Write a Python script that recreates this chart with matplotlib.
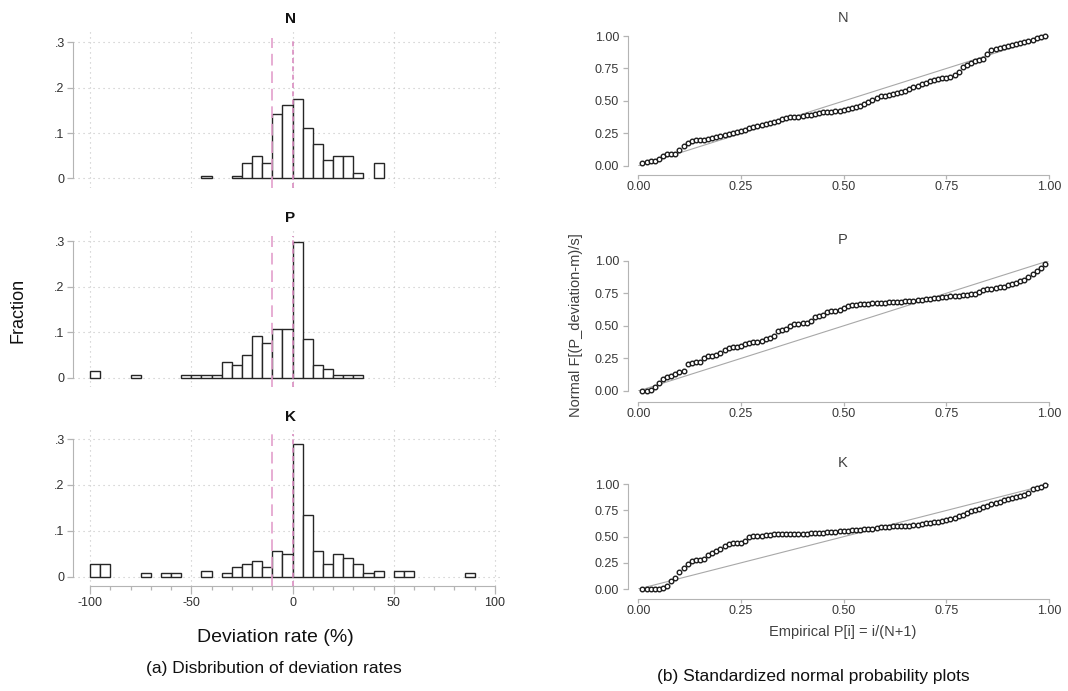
import matplotlib
matplotlib.use('Agg')
import matplotlib.pyplot as plt
from matplotlib.ticker import MultipleLocator

plt.rcParams['font.family'] = ['Liberation Sans', 'DejaVu Sans']
plt.rcParams['axes.unicode_minus'] = False

# ---- (a) histograms: left edge of 5%-wide bins, fraction in bin
n_bins = [-45, -30, -25, -20, -15, -10, -5, 0, 5, 10, 15, 20, 25, 30, 40]
n_frac = [0.006, 0.006, 0.035, 0.049, 0.035, 0.141, 0.161, 0.176, 0.112, 0.075,
          0.040, 0.049, 0.049, 0.012, 0.035]

p_bins = [-100, -80, -55, -50, -45, -40, -35, -30, -25, -20, -15, -10, -5, 0, 5,
          10, 15, 20, 25, 30]
p_frac = [0.014, 0.005, 0.005, 0.005, 0.005, 0.005, 0.034, 0.028, 0.049, 0.091,
          0.077, 0.106, 0.106, 0.297, 0.085, 0.028, 0.020, 0.005, 0.005, 0.005]

k_bins = [-100, -95, -75, -65, -60, -45, -35, -30, -25, -20, -15, -10, -5, 0, 5,
          10, 15, 20, 25, 30, 35, 40, 50, 55, 85]
k_frac = [0.0276, 0.0276, 0.007, 0.007, 0.007, 0.013, 0.007, 0.020, 0.0276, 0.035,
          0.020, 0.055, 0.049, 0.290, 0.134, 0.055, 0.0276, 0.049, 0.041, 0.0276,
          0.007, 0.013, 0.013, 0.013, 0.007]

ref_lines = [-10, 0]   # dashed reference lines (%)

# ---- (b) normal probability plots
emp_p = [0.01, 0.02, 0.03, 0.04, 0.05, 0.06, 0.07, 0.08, 0.09, 0.10,
         0.11, 0.12, 0.13, 0.14, 0.15, 0.16, 0.17, 0.18, 0.19, 0.20,
         0.21, 0.22, 0.23, 0.24, 0.25, 0.26, 0.27, 0.28, 0.29, 0.30,
         0.31, 0.32, 0.33, 0.34, 0.35, 0.36, 0.37, 0.38, 0.39, 0.40,
         0.41, 0.42, 0.43, 0.44, 0.45, 0.46, 0.47, 0.48, 0.49, 0.50,
         0.51, 0.52, 0.53, 0.54, 0.55, 0.56, 0.57, 0.58, 0.59, 0.60,
         0.61, 0.62, 0.63, 0.64, 0.65, 0.66, 0.67, 0.68, 0.69, 0.70,
         0.71, 0.72, 0.73, 0.74, 0.75, 0.76, 0.77, 0.78, 0.79, 0.80,
         0.81, 0.82, 0.83, 0.84, 0.85, 0.86, 0.87, 0.88, 0.89, 0.90,
         0.91, 0.92, 0.93, 0.94, 0.95, 0.96, 0.97, 0.98, 0.99]

n_norm = [0.020, 0.034, 0.036, 0.036, 0.050, 0.080, 0.090, 0.092, 0.094, 0.120,
          0.155, 0.177, 0.190, 0.198, 0.200, 0.200, 0.206, 0.213, 0.224, 0.233,
          0.240, 0.245, 0.252, 0.262, 0.270, 0.280, 0.289, 0.297, 0.307, 0.315,
          0.322, 0.328, 0.336, 0.345, 0.365, 0.370, 0.373, 0.375, 0.380, 0.385,
          0.390, 0.396, 0.403, 0.410, 0.417, 0.418, 0.418, 0.420, 0.426, 0.431,
          0.440, 0.448, 0.456, 0.464, 0.475, 0.490, 0.505, 0.522, 0.535, 0.540,
          0.546, 0.551, 0.558, 0.568, 0.580, 0.595, 0.605, 0.617, 0.628, 0.642,
          0.654, 0.662, 0.670, 0.674, 0.678, 0.685, 0.698, 0.720, 0.760, 0.778,
          0.795, 0.805, 0.812, 0.820, 0.860, 0.890, 0.900, 0.910, 0.918, 0.926,
          0.934, 0.940, 0.946, 0.952, 0.960, 0.970, 0.982, 0.995, 1.000]

p_norm = [0.000, 0.000, 0.008, 0.033, 0.062, 0.090, 0.106, 0.117, 0.132, 0.145,
          0.156, 0.210, 0.217, 0.221, 0.226, 0.250, 0.265, 0.268, 0.278, 0.290,
          0.318, 0.330, 0.334, 0.340, 0.347, 0.360, 0.370, 0.376, 0.378, 0.383,
          0.398, 0.410, 0.425, 0.458, 0.466, 0.477, 0.497, 0.512, 0.517, 0.520,
          0.524, 0.535, 0.565, 0.577, 0.585, 0.609, 0.612, 0.616, 0.620, 0.640,
          0.655, 0.661, 0.663, 0.665, 0.667, 0.670, 0.672, 0.674, 0.676, 0.677,
          0.679, 0.681, 0.683, 0.685, 0.688, 0.690, 0.693, 0.696, 0.699, 0.702,
          0.706, 0.710, 0.714, 0.718, 0.722, 0.726, 0.730, 0.732, 0.735, 0.738,
          0.742, 0.747, 0.760, 0.775, 0.780, 0.786, 0.790, 0.796, 0.800, 0.810,
          0.822, 0.832, 0.843, 0.855, 0.875, 0.898, 0.920, 0.946, 0.978]

k_norm = [0.000, 0.000, 0.000, 0.000, 0.000, 0.005, 0.028, 0.075, 0.105, 0.165,
          0.205, 0.242, 0.265, 0.275, 0.280, 0.290, 0.325, 0.342, 0.360, 0.384,
          0.408, 0.426, 0.435, 0.440, 0.443, 0.462, 0.495, 0.502, 0.505, 0.508,
          0.514, 0.519, 0.522, 0.522, 0.523, 0.524, 0.525, 0.525, 0.526, 0.528,
          0.530, 0.531, 0.533, 0.536, 0.539, 0.543, 0.546, 0.549, 0.552, 0.555,
          0.558, 0.562, 0.566, 0.568, 0.571, 0.573, 0.575, 0.580, 0.588, 0.595,
          0.597, 0.598, 0.599, 0.600, 0.601, 0.603, 0.608, 0.614, 0.620, 0.626,
          0.632, 0.638, 0.644, 0.650, 0.658, 0.668, 0.680, 0.695, 0.710, 0.727,
          0.742, 0.755, 0.768, 0.782, 0.795, 0.808, 0.821, 0.833, 0.846, 0.858,
          0.869, 0.880, 0.890, 0.900, 0.920, 0.955, 0.964, 0.972, 0.990]

diag = [0.0, 1.0]

W, H = 1068, 691
fig = plt.figure(figsize=(W / 100, H / 100), dpi=100)


def px(x, y):
    return x / W, 1 - y / H


GRID = dict(color='#c4c4c4', lw=0.8, ls=(0, (1, 3.5)), zorder=0)
SPINE = '#b4b4b4'


def hist_panel(rect, bins, frac, show_x):
    ax = fig.add_axes(rect)
    ax.set_xlim(-108.4, 102.5)
    ax.set_ylim(-0.021, 0.327)
    for g in [-100, -50, 0, 50, 100]:
        ax.axvline(g, **GRID)
    for g in [0, 0.1, 0.2, 0.3]:
        ax.axhline(g, **GRID)
    ax.bar(bins, frac, width=5, align='edge', facecolor='white',
           edgecolor='#262626', lw=1.0, zorder=2)
    ax.vlines(ref_lines[0], -0.021, 0.31, color='#e3a0cc', lw=1.2,
              linestyles=[(0, (7, 3.5))], zorder=3)
    ax.vlines(ref_lines[1], -0.021, 0.31, color='#d98cc0', lw=1.2,
              linestyles=[(0, (3, 2))], zorder=3)
    for s in ['top', 'right']:
        ax.spines[s].set_visible(False)
    ax.spines['left'].set_color(SPINE)
    ax.spines['left'].set_bounds(0, 0.3)
    ax.set_yticks([0, 0.1, 0.2, 0.3])
    ax.set_yticklabels(['0', '.1', '.2', '.3'])
    ax.tick_params(axis='y', length=4.5, width=0.9, color=SPINE, pad=1.5,
                   labelsize=9, labelcolor='#303030')
    if show_x:
        ax.spines['bottom'].set_color(SPINE)
        ax.spines['bottom'].set_bounds(-100, 100)
        ax.set_xticks([-100, -50, 0, 50, 100])
        ax.xaxis.set_minor_locator(MultipleLocator(10))
        ax.tick_params(axis='x', which='major', length=6, width=0.9, color=SPINE,
                       pad=2, labelsize=9, labelcolor='#303030')
        ax.tick_params(axis='x', which='minor', length=3, width=0.9, color=SPINE)
    else:
        ax.spines['bottom'].set_visible(False)
        ax.tick_params(axis='x', bottom=False, labelbottom=False)
    return ax


def pp_panel(rect, yvals, out_b):
    ax = fig.add_axes(rect)
    ax.set_xlim(0, 1)
    ax.set_ylim(0, 1)
    ax.plot(diag, diag, color='#a8a8a8', lw=0.8, zorder=1)
    ax.plot(emp_p, yvals, 'o', mfc='white', mec='#1c1c1c', ms=3.3, mew=1.0,
            clip_on=False, zorder=2)
    for s in ['top', 'right']:
        ax.spines[s].set_visible(False)
    ax.spines['left'].set_position(('outward', 7.2))
    ax.spines['bottom'].set_position(('outward', out_b))
    for s in ['left', 'bottom']:
        ax.spines[s].set_color(SPINE)
        ax.spines[s].set_bounds(0, 1)
    ticks = [0, 0.25, 0.5, 0.75, 1.0]
    labels = ['0.00', '0.25', '0.50', '0.75', '1.00']
    ax.set_xticks(ticks)
    ax.set_xticklabels(labels)
    ax.set_yticks(ticks)
    ax.set_yticklabels(labels)
    ax.tick_params(axis='y', length=3.6, width=0.9, color=SPINE, pad=3,
                   labelsize=9, labelcolor='#383838')
    ax.tick_params(axis='x', length=3, width=0.9, color=SPINE, pad=1.5,
                   labelsize=9, labelcolor='#383838')
    return ax


# left column
hist_panel([0.0684, 0.7279, 0.3998, 0.2287], n_bins, n_frac, False)
hist_panel([0.0684, 0.4395, 0.3998, 0.2295], p_bins, p_frac, False)
hist_panel([0.0684, 0.1515, 0.3998, 0.2311], k_bins, k_frac, True)

for lab, y in zip(['N', 'P', 'K'], [19, 218, 417]):
    fig.text(*px(290, y), lab, ha='center', va='center', fontsize=11,
             fontweight='bold', color='#111111')

fig.text(*px(18, 310), 'Fraction', rotation=90, ha='center', va='center',
         fontsize=13, color='#111111')
fig.text(*px(275, 638), 'Deviation rate (%)', ha='center', va='center',
         fontsize=14, color='#111111')
fig.text(*px(274, 668), '(a) Disbribution of deviation rates', ha='center',
         va='center', fontsize=12.5, color='#111111')

# right column
pp_panel([0.5977, 0.7598, 0.3845, 0.1881], n_norm, 6.5)
pp_panel([0.5977, 0.4342, 0.3845, 0.1886], p_norm, 7.7)
pp_panel([0.5977, 0.1476, 0.3845, 0.1515], k_norm, 7.2)

for lab, y in zip(['N', 'P', 'K'], [18, 240, 463]):
    fig.text(*px(843, y), lab, ha='center', va='center', fontsize=10.5,
             color='#404040')

fig.text(*px(576, 325), 'Normal F[(P_deviation-m)/s]', rotation=90,
         ha='center', va='center', fontsize=10.5, color='#404040')
fig.text(*px(843, 632), 'Empirical P[i] = i/(N+1)', ha='center', va='center',
         fontsize=10.5, color='#404040')
fig.text(*px(813, 677), '(b) Standardized normal probability plots',
         ha='center', va='center', fontsize=12.5, color='#111111')

fig.savefig('out.png', dpi=100)
